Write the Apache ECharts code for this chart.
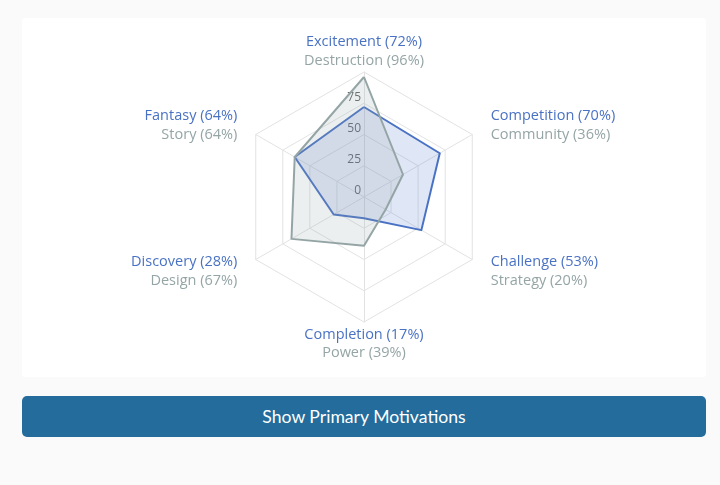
<!DOCTYPE html>
<html>
<head>
<meta charset="utf-8">
<script src="https://cdn.jsdelivr.net/npm/echarts@6/dist/echarts.min.js"></script>
<style>
  html, body { margin: 0; padding: 0; background: #fafafa; }
  .card {
    position: absolute; left: 22px; top: 18px; width: 684px; height: 359px;
    background: #fff; border-radius: 3px;
  }
  .btn {
    position: absolute; left: 22px; top: 396px; width: 684px; height: 41px;
    background: #236c9b; border-radius: 5px; color: #fff;
    font-family: Lato, sans-serif; font-size: 17.6px; line-height: 41px; text-align: center;
  }
</style>
</head>
<body>
<div class="card" id="chart"></div>
<div class="btn">Show Primary Motivations</div>
<script>
// primary motivations (blue) and secondary (gray), listed clockwise from the top
const primaryNames = ["Excitement", "Competition", "Challenge", "Completion", "Discovery", "Fantasy"];
const primaryValues = [72, 70, 53, 17, 28, 64];
const secondaryNames = ["Destruction", "Community", "Strategy", "Power", "Design", "Story"];
const secondaryValues = [96, 36, 20, 39, 67, 64];
const axisMax = 100;

const BLUE = "#4a72c4";
const GRAY = "#95a5a6";

// echarts draws indicators counter-clockwise, so walk the list backwards after the top one
const order = [0, 5, 4, 3, 2, 1];
// label placement per original index: top, upper, lower, bottom, lower, upper
const place = ["top", "up", "down", "bottom", "down", "up"];

const indicator = order.map((k, i) => {
  const item = { name: String(k), max: axisMax, min: 0 };
  if (i === 0) item.axisLabel = { show: true };
  return item;
});

const txt = { fontFamily: "Open Sans", fontSize: 14.5, fontWeight: 500 };

const chart = echarts.init(document.getElementById("chart"));
chart.setOption({
  animation: false,
  radar: {
    center: [342, 179],
    radius: 125,
    startAngle: 90,
    splitNumber: 4,
    shape: "polygon",
    axisNameGap: 4,
    axisName: {
      padding: [0, 15],
      formatter: (v) => {
        const k = +v;
        const a = `${primaryNames[k]} (${primaryValues[k]}%)`;
        const b = `${secondaryNames[k]} (${secondaryValues[k]}%)`;
        const p = place[k];
        if (p === "top") return `{t1|${a}}\n{t2|${b}}`;
        if (p === "bottom") return `{b1|${a}}\n{b2|${b}}`;
        if (p === "up") return `{s1|${a}}\n{s2|${b}}\n{eu| }`;
        return `{ed| }\n{s1|${a}}\n{s2|${b}}`;
      },
      rich: {
        t1: { ...txt, color: BLUE, lineHeight: 24 },
        t2: { ...txt, color: GRAY, lineHeight: 14 },
        b1: { ...txt, color: BLUE, lineHeight: 17 },
        b2: { ...txt, color: GRAY, lineHeight: 19 },
        s1: { ...txt, color: BLUE, lineHeight: 19 },
        s2: { ...txt, color: GRAY, lineHeight: 19 },
        eu: { fontSize: 4, lineHeight: 14 },
        ed: { fontSize: 4, lineHeight: 20 }
      }
    },
    axisLine: { lineStyle: { color: "#e2e2e2", width: 1 } },
    splitLine: { lineStyle: { color: "#e2e2e2", width: 1 } },
    splitArea: { show: false },
    axisLabel: {
      show: false,
      showMaxLabel: false,
      color: "#666",
      fontFamily: "Open Sans",
      fontSize: 12,
      margin: 3,
      verticalAlign: "bottom",
      formatter: (v) => (v >= axisMax ? "" : v)
    },
    indicator
  },
  series: [
    {
      type: "radar",
      symbol: "none",
      data: [
        {
          value: order.map((k) => primaryValues[k]),
          lineStyle: { color: BLUE, width: 2 },
          areaStyle: { color: "rgba(74,114,196,0.25)" }
        },
        {
          value: order.map((k) => secondaryValues[k]),
          lineStyle: { color: GRAY, width: 2 },
          areaStyle: { color: "rgba(149,165,166,0.25)" }
        }
      ]
    }
  ]
});
</script>
</body>
</html>
